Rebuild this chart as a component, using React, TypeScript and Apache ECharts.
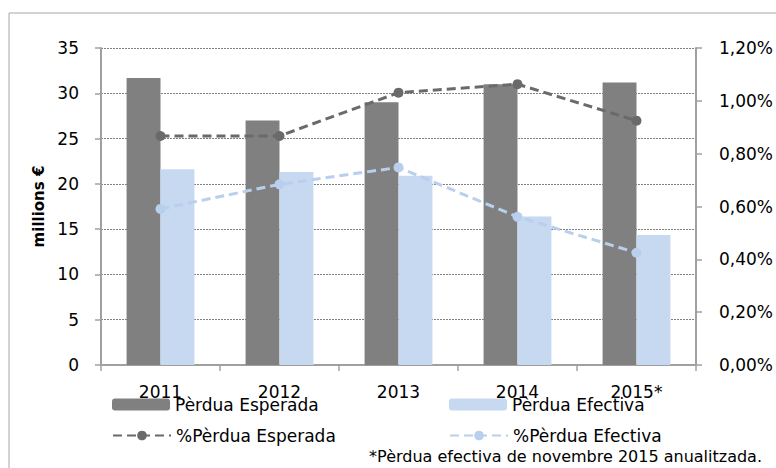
import React, { useEffect, useRef } from "react";
import * as echarts from "echarts";

const categories = ["2011", "2012", "2013", "2014", "2015*"];
const perduaEsperada = [31.7, 27.0, 29.0, 31.0, 31.2];
const perduaEfectiva = [21.6, 21.3, 20.9, 16.4, 14.35];
const pctEsperada = [0.867, 0.867, 1.031, 1.063, 0.925];
const pctEfectiva = [0.591, 0.684, 0.748, 0.561, 0.425];
const leftTicks = { min: 0, max: 35, interval: 5 };
const rightTicks = { min: 0, max: 1.2, interval: 0.2 };
const footnote = "*Pèrdua efectiva de novembre 2015 anualitzada.";

const FONT = "DejaVu Sans";
const DARK = "#808080";
const LIGHT = "#c6d9f1";
const DARK_LINE = "#6a6a6a";
const LIGHT_LINE = "#b9cfee";

export default function App() {
  const ref = useRef<HTMLDivElement>(null);
  useEffect(() => {
    if (!ref.current) return;
    const chart = echarts.init(ref.current, null, { renderer: "svg" });
    const legendBase = {
      itemWidth: 58,
      itemHeight: 12,
      padding: 0,
      itemGap: 5,
      textStyle: { fontFamily: FONT, fontSize: 17, color: "#000", padding: [0, 0, 0, 0] },
    };
    chart.setOption({
      animation: false,
      backgroundColor: "#fff",
      grid: { left: 101, right: 80, top: 48, bottom: 103, containLabel: false },
      graphic: [
        {
          type: "rect",
          shape: { x: 9, y: 13, width: 900, height: 600 },
          style: { fill: "none", stroke: "#a6a6a6", lineWidth: 1 },
          silent: true,
          z: -10,
        },
        {
          type: "text",
          right: 14,
          top: 448,
          style: { text: footnote, fontFamily: FONT, fontSize: 16, fill: "#000" },
        },
      ],
      legend: [
        { ...legendBase, left: 112, top: 396, data: ["Pèrdua Esperada"] },
        { ...legendBase, left: 449, top: 396, data: ["Pèrdua Efectiva"] },
        { ...legendBase, left: 112, top: 427, data: ["%Pèrdua Esperada"] },
        { ...legendBase, left: 449, top: 427, data: ["%Pèrdua Efectiva"] },
      ],
      xAxis: {
        type: "category",
        data: categories,
        axisLine: { lineStyle: { color: "#a0a0a0", width: 2 } },
        axisTick: { show: true, length: 6, lineStyle: { color: "#a0a0a0", width: 1.5 } },
        axisLabel: { fontFamily: FONT, fontSize: 17, color: "#000", margin: 18 },
      },
      yAxis: [
        {
          type: "value",
          ...leftTicks,
          name: "millions €",
          nameLocation: "middle",
          nameGap: 55,
          nameRotate: 90,
          nameTextStyle: { fontFamily: FONT, fontSize: 15, fontWeight: "bold", color: "#000" },
          axisLine: { show: true, lineStyle: { color: "#a0a0a0", width: 2 } },
          axisTick: { show: true, length: 6, lineStyle: { color: "#a0a0a0", width: 1.5 } },
          axisLabel: { fontFamily: FONT, fontSize: 17, color: "#000", margin: 22 },
          splitLine: { show: true, lineStyle: { color: "#808080", type: [2, 1], width: 1 } },
        },
        {
          type: "value",
          ...rightTicks,
          position: "right",
          axisLine: { show: true, lineStyle: { color: "#a0a0a0", width: 2 } },
          axisTick: { show: true, length: 6, lineStyle: { color: "#a0a0a0", width: 1.5 } },
          axisLabel: {
            fontFamily: FONT,
            fontSize: 17,
            color: "#000",
            margin: 23,
            formatter: (v: number) => v.toFixed(2).replace(".", ",") + "%",
          },
          splitLine: { show: false },
        },
      ],
      series: [
        {
          name: "Pèrdua Esperada",
          type: "bar",
          data: perduaEsperada,
          barGap: "0%",
          barCategoryGap: "43%",
          itemStyle: { color: DARK },
          z: 3,
        },
        {
          name: "Pèrdua Efectiva",
          type: "bar",
          data: perduaEfectiva,
          itemStyle: { color: LIGHT },
          z: 3,
        },
        {
          name: "%Pèrdua Esperada",
          type: "line",
          yAxisIndex: 1,
          data: pctEsperada,
          symbol: "circle",
          symbolSize: 10,
          lineStyle: { color: DARK_LINE, width: 3, type: [9, 5] },
          itemStyle: { color: DARK_LINE },
          z: 5,
        },
        {
          name: "%Pèrdua Efectiva",
          type: "line",
          yAxisIndex: 1,
          data: pctEfectiva,
          symbol: "circle",
          symbolSize: 10,
          lineStyle: { color: LIGHT_LINE, width: 3, type: [9, 5] },
          itemStyle: { color: LIGHT_LINE },
          z: 5,
        },
      ],
    });
    return () => chart.dispose();
  }, []);
  return (
    <div
      ref={ref}
      style={{ position: "fixed", left: 0, top: 0, width: 776, height: 468 }}
    />
  );
}
